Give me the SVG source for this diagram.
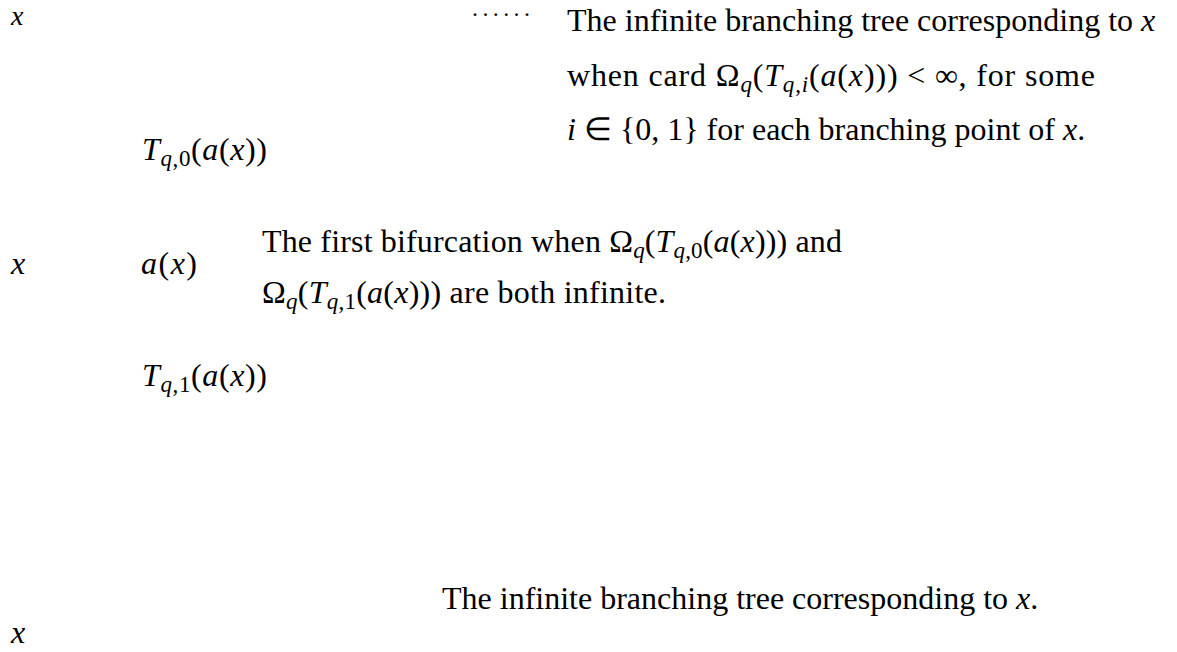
<svg xmlns="http://www.w3.org/2000/svg" width="1177" height="652" viewBox="0 0 1177 652">
<style>
text { font-family: "Liberation Serif", "Times New Roman", serif; font-size: 32px; fill: #000; }
.m { font-style: italic; }
.s { font-size: 23px; }
</style>
<rect width="1177" height="652" fill="#fff"/>
<g id="connectors"/>
<g id="top-x"><text x="11" y="25" class="m" style="font-size:28px">x</text></g>
<g id="top-dots"><text x="471" y="22" style="font-size:24px" letter-spacing="2.4">······</text></g>
<g id="top-label">
<text x="567" y="31">The infinite branching tree corresponding to <tspan class="m">x</tspan></text>
<text x="567" y="86" textLength="528" lengthAdjust="spacing">when card Ω<tspan class="s m" dy="6">q</tspan><tspan dy="-6">(</tspan><tspan class="m">T</tspan><tspan class="s" dy="6"><tspan class="m">q</tspan>,<tspan class="m">i</tspan></tspan><tspan dy="-6">(</tspan><tspan class="m">a</tspan>(<tspan class="m">x</tspan>))) &lt; ∞, for some</text>
<text x="567" y="140"><tspan class="m">i</tspan> ∈ {0, 1} for each branching point of <tspan class="m">x</tspan>.</text>
</g>
<g id="t0"><text x="142" y="160" textLength="125" lengthAdjust="spacing"><tspan class="m">T</tspan><tspan class="s" dy="6"><tspan class="m">q</tspan>,0</tspan><tspan dy="-6">(</tspan><tspan class="m">a</tspan>(<tspan class="m">x</tspan>))</text></g>
<g id="mid-x"><text x="11" y="274" class="m">x</text></g>
<g id="ax"><text x="141" y="274" textLength="56" lengthAdjust="spacing"><tspan class="m">a</tspan>(<tspan class="m">x</tspan>)</text></g>
<g id="mid-label">
<text x="262" y="252" textLength="580" lengthAdjust="spacing">The first bifurcation when Ω<tspan class="s m" dy="6">q</tspan><tspan dy="-6">(</tspan><tspan class="m">T</tspan><tspan class="s" dy="6"><tspan class="m">q</tspan>,0</tspan><tspan dy="-6">(</tspan><tspan class="m">a</tspan>(<tspan class="m">x</tspan>))) and</text>
<text x="262" y="303" textLength="404" lengthAdjust="spacing">Ω<tspan class="s m" dy="6">q</tspan><tspan dy="-6">(</tspan><tspan class="m">T</tspan><tspan class="s" dy="6"><tspan class="m">q</tspan>,1</tspan><tspan dy="-6">(</tspan><tspan class="m">a</tspan>(<tspan class="m">x</tspan>))) are both infinite.</text>
</g>
<g id="t1"><text x="142" y="386" textLength="125" lengthAdjust="spacing"><tspan class="m">T</tspan><tspan class="s" dy="6"><tspan class="m">q</tspan>,1</tspan><tspan dy="-6">(</tspan><tspan class="m">a</tspan>(<tspan class="m">x</tspan>))</text></g>
<g id="bottom-label"><text x="442" y="609">The infinite branching tree corresponding to <tspan class="m">x</tspan>.</text></g>
<g id="bottom-x"><text x="11" y="643" class="m">x</text></g>
</svg>
